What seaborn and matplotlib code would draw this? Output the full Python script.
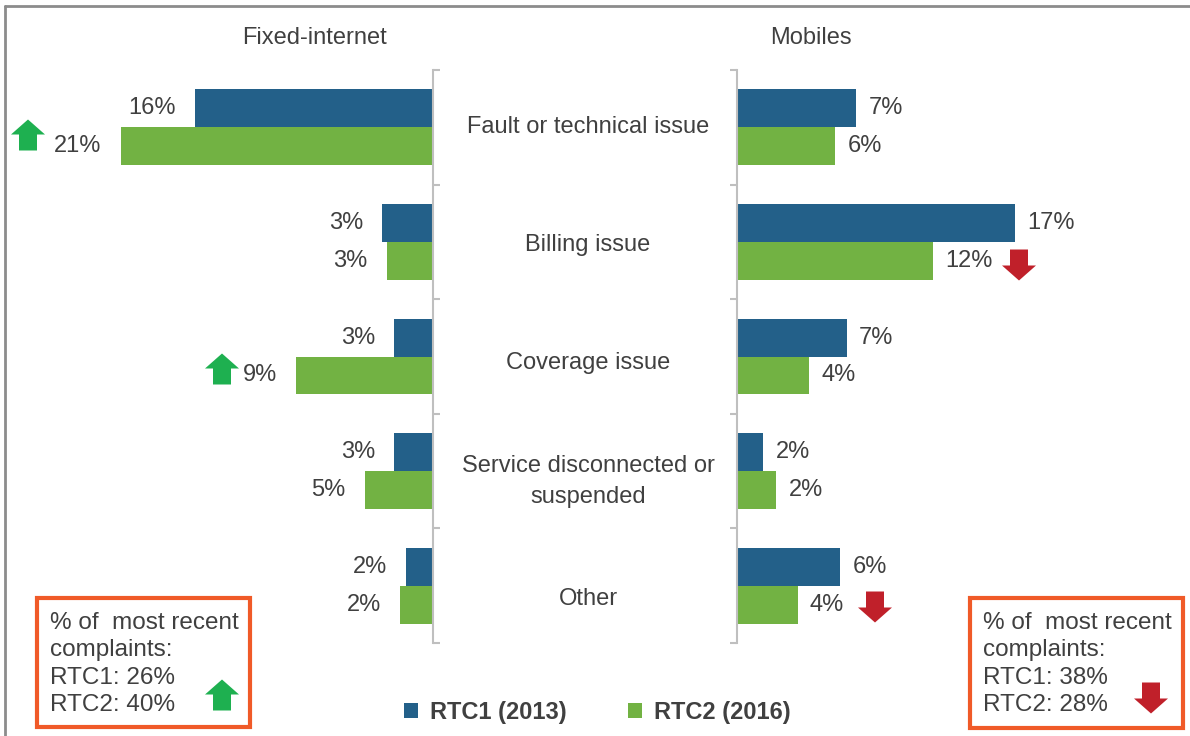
import numpy as np
import pandas as pd
import seaborn as sns
import matplotlib.pyplot as plt
from matplotlib.patches import Polygon, Rectangle
from matplotlib.lines import Line2D
from matplotlib.transforms import blended_transform_factory

sns.set_theme(style="white")
plt.rcParams['font.family'] = ['Liberation Sans', 'DejaVu Sans']

categories = ["Fault or technical issue", "Billing issue", "Coverage issue",
              "Service disconnected or\nsuspended", "Other"]
series = ["RTC1 (2013)", "RTC2 (2016)"]
fixed_rtc1 = [16.0, 3.4, 2.6, 2.6, 1.8]
fixed_rtc2 = [21.0, 3.1, 9.2, 4.6, 2.2]
mobile_rtc1 = [7.3, 17.0, 6.7, 1.6, 6.3]
mobile_rtc2 = [6.0, 12.0, 4.4, 2.4, 3.7]
box_left = "% of  most recent\ncomplaints:\nRTC1: 26%\nRTC2: 40%"
box_right = "% of  most recent\ncomplaints:\nRTC1: 38%\nRTC2: 28%"

BLUE = "#236089"
GREEN = "#72B243"
TXT = "#404040"
SPINE = "#BFBFBF"
W, H = 1190, 736


def long_df(a, b):
    return pd.DataFrame({
        "category": categories * 2,
        "series": [series[0]] * len(a) + [series[1]] * len(b),
        "value": list(a) + list(b),
    })


def px(x, y):
    return x / W, 1 - y / H


def block_arrow(fig, cx, cy, up, color):
    hw, hh, sw, th = 17, 15, 9, 31
    s = 1 if up else -1
    tip = cy - s * th / 2
    base = cy + s * th / 2
    neck = tip + s * hh
    pts = [(cx, tip), (cx + hw, neck), (cx + sw, neck), (cx + sw, base),
           (cx - sw, base), (cx - sw, neck), (cx - hw, neck)]
    fig.patches.append(Polygon([px(x, y) for x, y in pts], closed=True,
                               transform=fig.transFigure, color=color, lw=0))


fig = plt.figure(figsize=(W / 100, H / 100), dpi=100)
bottom, top = 1 - 643 / H, 1 - 70 / H
axL = fig.add_axes([60 / W, bottom, 373 / W, top - bottom])
axR = fig.add_axes([737 / W, bottom, 363 / W, top - bottom])

panels = [(axL, long_df(fixed_rtc1, fixed_rtc2), (25.1, 0), 14),
          (axR, long_df(mobile_rtc1, mobile_rtc2), (0, 22.2), 9)]
for ax, df, xlim, pad in panels:
    sns.barplot(data=df, y="category", x="value", hue="series", orient="h",
                palette=[BLUE, GREEN], saturation=1, width=0.66,
                edgecolor="none", ax=ax)
    ax.set_xlim(*xlim)
    ax.set_ylim(4.5, -0.5)
    ax.set_xlabel("")
    ax.set_ylabel("")
    ax.set_xticks([])
    ax.set_yticks([])
    ax.set_yticks(np.arange(-0.5, 5, 1), minor=True)
    for c in ax.containers:
        ax.bar_label(c, labels=[f"{v:.0f}%" for v in c.datavalues],
                     padding=pad, fontsize=17, color=TXT)
    for s in ax.spines.values():
        s.set_visible(False)
    ax.legend_.remove()

axL.spines["right"].set_visible(True)
axL.spines["right"].set_color(SPINE)
axL.spines["right"].set_linewidth(1.5)
axL.yaxis.tick_right()
axR.spines["left"].set_visible(True)
axR.spines["left"].set_color(SPINE)
axR.spines["left"].set_linewidth(1.5)
axR.yaxis.tick_left()
for ax in (axL, axR):
    ax.tick_params(axis="y", which="minor", length=5, width=1.5,
                   color=SPINE, direction="out")

# category labels in the middle (sit a little below the bar centres)
tr = blended_transform_factory(fig.transFigure, axL.transData)
for i, cat in enumerate(categories):
    fig.text(588 / W, i * 1.03, cat, transform=tr, ha="center", va="center",
             fontsize=17, color=TXT, linespacing=1.55)

fig.text(*px(314, 38), "Fixed-internet", ha="center", va="center",
         fontsize=17, color=TXT)
fig.text(*px(811, 38), "Mobiles", ha="center", va="center",
         fontsize=17, color=TXT)

# legend
handles, labels = axL.get_legend_handles_labels()
leg = fig.legend(handles, labels, loc="center", bbox_to_anchor=px(597, 712),
                 ncol=2, frameon=False, handlelength=0.6, handleheight=0.6,
                 handletextpad=0.5, columnspacing=2.6,
                 prop={"size": 17, "weight": "bold"})
for t in leg.get_texts():
    t.set_color(TXT)

# summary boxes
for (x0, y0, x1, y1), txt in [((37, 598, 250, 727), box_left),
                              ((970, 598, 1183, 728), box_right)]:
    fig.patches.append(Rectangle(px(x0, y1), (x1 - x0) / W, (y1 - y0) / H,
                                 transform=fig.transFigure, fill=False,
                                 edgecolor="#F05A28", lw=3))
    fig.text(*px(x0 + 13, y0 + 14), txt, ha="left", va="top", fontsize=17.5,
             color=TXT, linespacing=1.32)

# trend arrows
UP, DOWN = "#1EB050", "#C0202A"
block_arrow(fig, 28, 135, True, UP)
block_arrow(fig, 222, 369, True, UP)
block_arrow(fig, 222, 695, True, UP)
block_arrow(fig, 1019, 265, False, DOWN)
block_arrow(fig, 875, 607, False, DOWN)
block_arrow(fig, 1151, 698, False, DOWN)

# outer frame (top and left edges)
fig.lines.append(Line2D([5 / W, 1], [1 - 6 / H] * 2, transform=fig.transFigure,
                        color="#8C8C8C", lw=2))
fig.lines.append(Line2D([5 / W] * 2, [0, 1 - 6 / H], transform=fig.transFigure,
                        color="#8C8C8C", lw=2))

fig.savefig("out.png", dpi=100)
